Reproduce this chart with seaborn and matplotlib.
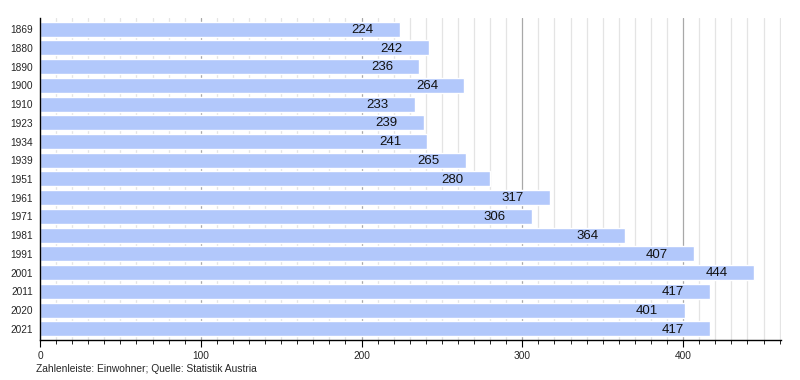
import matplotlib
matplotlib.use("Agg")
import matplotlib.pyplot as plt
import seaborn as sns
import pandas as pd
from matplotlib.ticker import MultipleLocator

years = ["1869", "1880", "1890", "1900", "1910", "1923", "1934", "1939", "1951",
         "1961", "1971", "1981", "1991", "2001", "2011", "2020", "2021"]
population = [224, 242, 236, 264, 233, 239, 241, 265, 280,
              317, 306, 364, 407, 444, 417, 401, 417]
footer = "Zahlenleiste: Einwohner; Quelle: Statistik Austria"

df = pd.DataFrame({"year": years, "pop": population})

sns.set_style("white")
plt.rcParams["font.family"] = ["Liberation Sans", "DejaVu Sans"]

fig = plt.figure(figsize=(8, 3.8), dpi=100)
ax = fig.add_axes([0.05, 0.105, 0.9265, 0.848])

for x in range(10, 470, 10):
    if x % 100 == 0:
        ax.axvline(x, color="#a8a8a8", lw=0.9, zorder=0)
    else:
        ax.axvline(x, color="#e4e4e4", lw=0.9, zorder=0)

sns.barplot(data=df, x="pop", y="year", orient="h", color="#b2c8fb",
            saturation=1, width=0.8, ax=ax, zorder=2)

for p, v in zip(ax.patches, population):
    y = p.get_y() + p.get_height() / 2
    ax.annotate(str(v), xy=(v, y), xytext=(-19, -0.5), textcoords="offset points",
                ha="right", va="center", fontsize=9.5, color="#111111", zorder=3)

ax.set_xlim(0, 461)
ax.set_ylim(16.6, -0.6)
ax.set_xlabel("")
ax.set_ylabel("")
for s in ["top", "right"]:
    ax.spines[s].set_visible(False)
ax.spines["left"].set_color("black")
ax.spines["bottom"].set_color("black")
ax.spines["left"].set_linewidth(1)
ax.spines["bottom"].set_linewidth(1)

ax.xaxis.set_major_locator(MultipleLocator(100))
ax.xaxis.set_minor_locator(MultipleLocator(10))
ax.tick_params(axis="x", which="major", length=5, width=0.8, labelsize=7.3, bottom=True, direction="out", color="black", pad=3)
ax.tick_params(axis="x", which="minor", length=3, width=0.6, bottom=True, direction="out", color="black")
ax.tick_params(axis="y", length=0, labelsize=7.3, pad=5)

fig.text(0.045, 0.028, footer, fontsize=7.4, ha="left", va="center")

fig.savefig("out.png", dpi=100)
